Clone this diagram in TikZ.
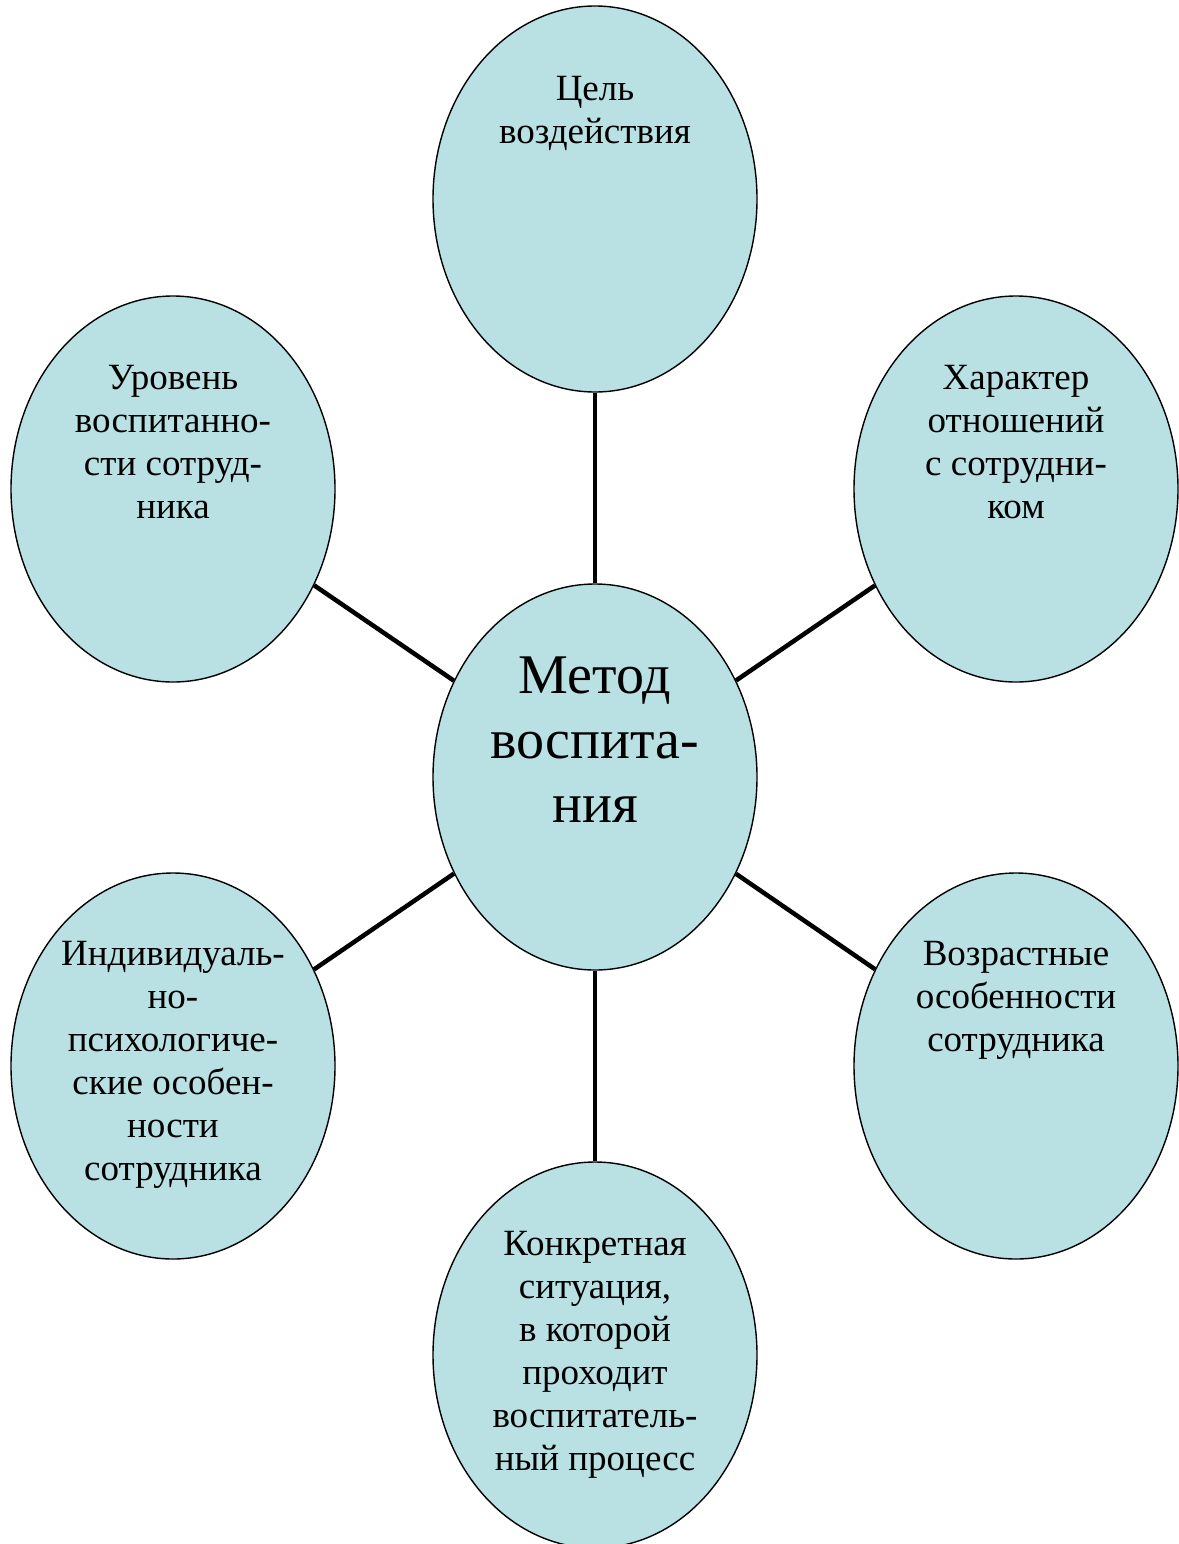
\documentclass[tikz,border=0pt]{standalone}
\usepackage{fontspec}
\setmainfont{Liberation Serif}
\usetikzlibrary{shapes.geometric}
\definecolor{bubble}{HTML}{B9E0E3}
\tikzset{
  bub/.style={ellipse, draw=black, line width=1.4pt, fill=bubble, minimum width=324pt, minimum height=386pt, inner sep=0pt},
  txt/.style={anchor=north, align=center, inner sep=0pt, font=\fontsize{37}{43}\selectfont},
  bigtxt/.style={anchor=north, align=center, inner sep=0pt, font=\fontsize{56}{64.5}\selectfont},
  link/.style={line width=4.5pt}
}
\begin{document}
\begin{tikzpicture}[x=1pt,y=-1pt]
\useasboundingbox (0,0) rectangle (1178,1544);
\node[bub] (t) at (595,199) {};
\node[bub] (c) at (595,777) {};
\node[bub] (ul) at (173,489) {};
\node[bub] (ur) at (1016,489) {};
\node[bub] (ll) at (173,1066) {};
\node[bub] (lr) at (1016,1066) {};
\node[bub] (b) at (595,1355) {};
\draw[link] (t) -- (c);
\draw[link] (b) -- (c);
\draw[link] (ul) -- (c);
\draw[link] (ur) -- (c);
\draw[link] (ll) -- (c);
\draw[link] (lr) -- (c);
\node[txt] (tt) at (595,76) {Цель\\воздействия};
\node[bigtxt] (ct) at (595,657) {Метод\\воспита-\\ния};
\node[txt] (ult) at (173,365) {Уровень\\воспитанно-\\сти сотруд-\\ника};
\node[txt] (urt) at (1016,365) {Характер\\отношений\\с сотрудни-\\ком};
\node[txt] (llt) at (173,941) {Индивидуаль-\\но-\\психологиче-\\ские особен-\\ности\\сотрудника};
\node[txt] (lrt) at (1016,941) {Возрастные\\особенности\\сотрудника};
\node[txt] (bt) at (595,1231) {Конкретная\\ситуация,\\в которой\\проходит\\воспитатель-\\ный процесс};
\end{tikzpicture}
\end{document}
